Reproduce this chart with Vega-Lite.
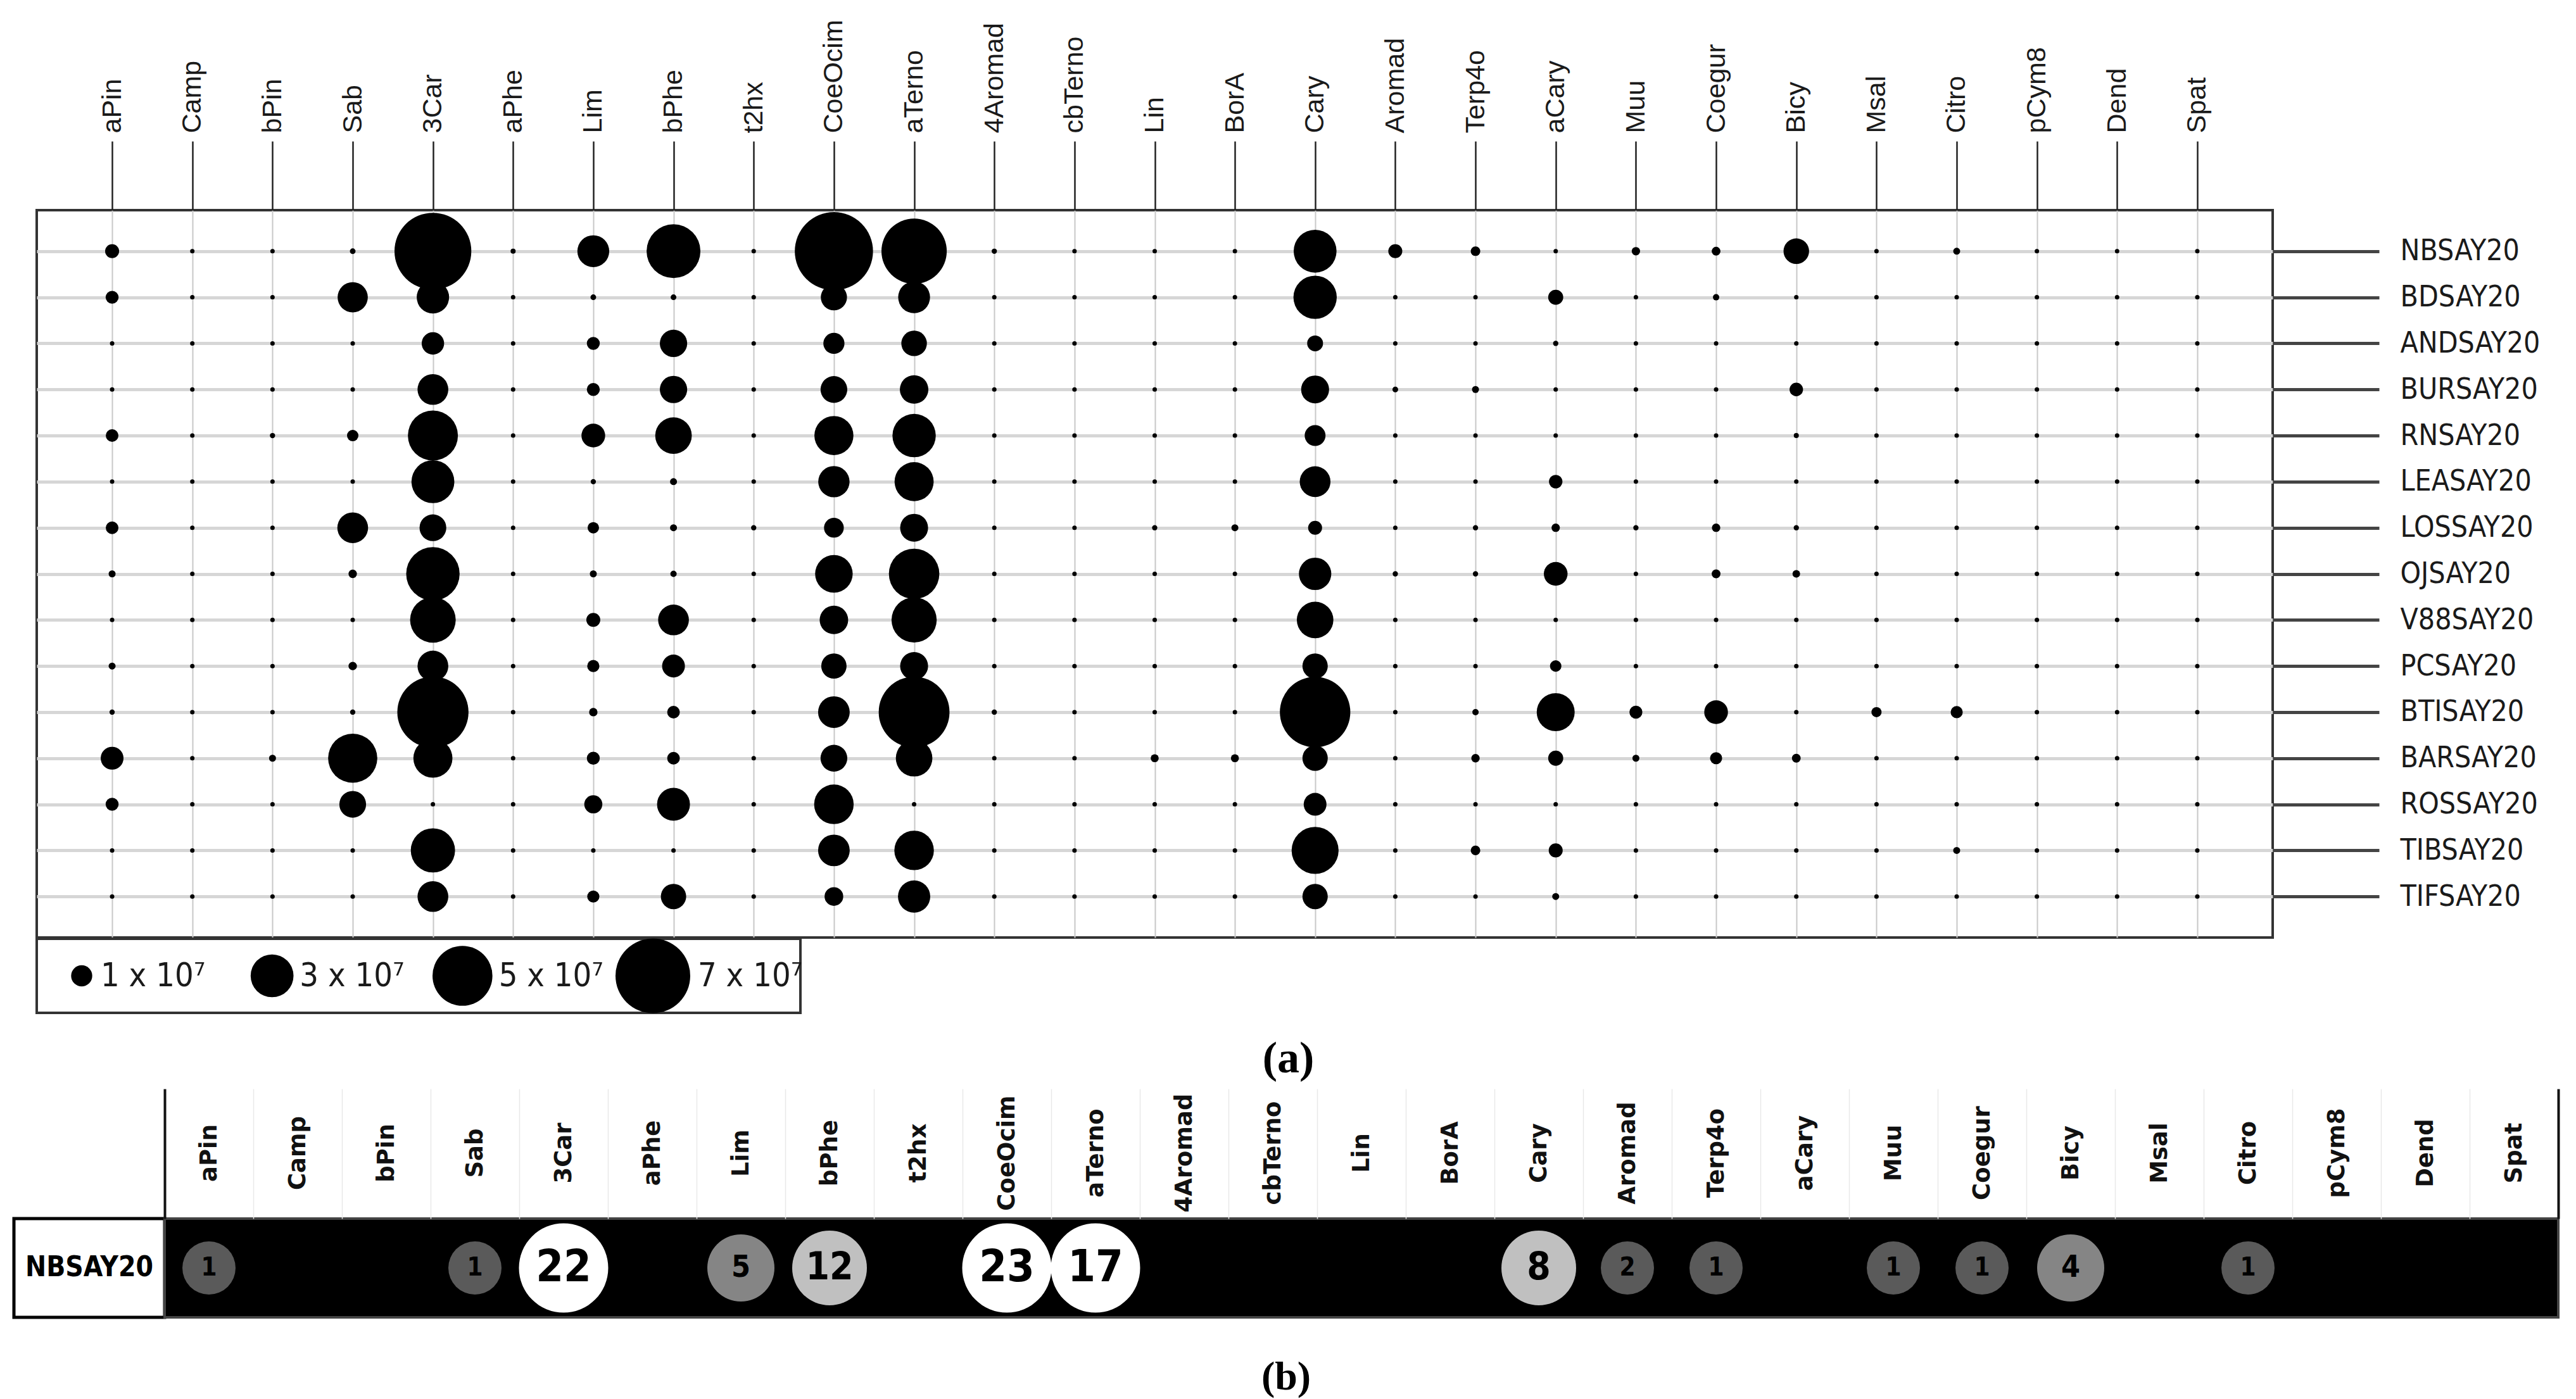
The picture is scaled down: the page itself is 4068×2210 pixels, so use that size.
{
  "$schema": "https://vega.github.io/schema/vega-lite/v6.json",
  "background": "white",
  "padding": {"left": 19, "top": 28, "right": 5, "bottom": 4},
  "config": {
    "view": {"stroke": "#333333", "strokeWidth": 4},
    "axis": {"titlePadding": 0, "labelLimit": 1000, "labelOverlap": false, "labelBound": false}
  },
  "datasets": {
    "grid": [
      {"compound":"aPin","sample":"NBSAY20","value":0.51},{"compound":"Camp","sample":"NBSAY20","value":0},{"compound":"bPin","sample":"NBSAY20","value":0},{"compound":"Sab","sample":"NBSAY20","value":0.07},{"compound":"3Car","sample":"NBSAY20","value":7.3},{"compound":"aPhe","sample":"NBSAY20","value":0.04},{"compound":"Lim","sample":"NBSAY20","value":1.9},{"compound":"bPhe","sample":"NBSAY20","value":4.25},{"compound":"t2hx","sample":"NBSAY20","value":0},{"compound":"CoeOcim","sample":"NBSAY20","value":7.5},{"compound":"aTerno","sample":"NBSAY20","value":5.7},{"compound":"4Aromad","sample":"NBSAY20","value":0.05},{"compound":"cbTerno","sample":"NBSAY20","value":0},{"compound":"Lin","sample":"NBSAY20","value":0},{"compound":"BorA","sample":"NBSAY20","value":0},{"compound":"Cary","sample":"NBSAY20","value":3.0},{"compound":"Aromad","sample":"NBSAY20","value":0.51},{"compound":"Terp4o","sample":"NBSAY20","value":0.26},{"compound":"aCary","sample":"NBSAY20","value":0},{"compound":"Muu","sample":"NBSAY20","value":0.2},{"compound":"Coegur","sample":"NBSAY20","value":0.22},{"compound":"Bicy","sample":"NBSAY20","value":1.35},{"compound":"Msal","sample":"NBSAY20","value":0},{"compound":"Citro","sample":"NBSAY20","value":0.13},{"compound":"pCym8","sample":"NBSAY20","value":0},{"compound":"Dend","sample":"NBSAY20","value":0},{"compound":"Spat","sample":"NBSAY20","value":0},
      {"compound":"aPin","sample":"BDSAY20","value":0.45},{"compound":"Camp","sample":"BDSAY20","value":0},{"compound":"bPin","sample":"BDSAY20","value":0},{"compound":"Sab","sample":"BDSAY20","value":1.75},{"compound":"3Car","sample":"BDSAY20","value":1.95},{"compound":"aPhe","sample":"BDSAY20","value":0},{"compound":"Lim","sample":"BDSAY20","value":0.07},{"compound":"bPhe","sample":"BDSAY20","value":0.07},{"compound":"t2hx","sample":"BDSAY20","value":0},{"compound":"CoeOcim","sample":"BDSAY20","value":1.4},{"compound":"aTerno","sample":"BDSAY20","value":1.9},{"compound":"4Aromad","sample":"BDSAY20","value":0},{"compound":"cbTerno","sample":"BDSAY20","value":0},{"compound":"Lin","sample":"BDSAY20","value":0},{"compound":"BorA","sample":"BDSAY20","value":0},{"compound":"Cary","sample":"BDSAY20","value":3.05},{"compound":"Aromad","sample":"BDSAY20","value":0},{"compound":"Terp4o","sample":"BDSAY20","value":0},{"compound":"aCary","sample":"BDSAY20","value":0.58},{"compound":"Muu","sample":"BDSAY20","value":0},{"compound":"Coegur","sample":"BDSAY20","value":0.1},{"compound":"Bicy","sample":"BDSAY20","value":0},{"compound":"Msal","sample":"BDSAY20","value":0},{"compound":"Citro","sample":"BDSAY20","value":0},{"compound":"pCym8","sample":"BDSAY20","value":0},{"compound":"Dend","sample":"BDSAY20","value":0},{"compound":"Spat","sample":"BDSAY20","value":0},
      {"compound":"aPin","sample":"ANDSAY20","value":0},{"compound":"Camp","sample":"ANDSAY20","value":0},{"compound":"bPin","sample":"ANDSAY20","value":0},{"compound":"Sab","sample":"ANDSAY20","value":0},{"compound":"3Car","sample":"ANDSAY20","value":1.1},{"compound":"aPhe","sample":"ANDSAY20","value":0},{"compound":"Lim","sample":"ANDSAY20","value":0.45},{"compound":"bPhe","sample":"ANDSAY20","value":1.5},{"compound":"t2hx","sample":"ANDSAY20","value":0},{"compound":"CoeOcim","sample":"ANDSAY20","value":1.0},{"compound":"aTerno","sample":"ANDSAY20","value":1.35},{"compound":"4Aromad","sample":"ANDSAY20","value":0},{"compound":"cbTerno","sample":"ANDSAY20","value":0},{"compound":"Lin","sample":"ANDSAY20","value":0},{"compound":"BorA","sample":"ANDSAY20","value":0},{"compound":"Cary","sample":"ANDSAY20","value":0.63},{"compound":"Aromad","sample":"ANDSAY20","value":0},{"compound":"Terp4o","sample":"ANDSAY20","value":0},{"compound":"aCary","sample":"ANDSAY20","value":0.05},{"compound":"Muu","sample":"ANDSAY20","value":0},{"compound":"Coegur","sample":"ANDSAY20","value":0},{"compound":"Bicy","sample":"ANDSAY20","value":0},{"compound":"Msal","sample":"ANDSAY20","value":0},{"compound":"Citro","sample":"ANDSAY20","value":0},{"compound":"pCym8","sample":"ANDSAY20","value":0},{"compound":"Dend","sample":"ANDSAY20","value":0},{"compound":"Spat","sample":"ANDSAY20","value":0},
      {"compound":"aPin","sample":"BURSAY20","value":0},{"compound":"Camp","sample":"BURSAY20","value":0},{"compound":"bPin","sample":"BURSAY20","value":0},{"compound":"Sab","sample":"BURSAY20","value":0},{"compound":"3Car","sample":"BURSAY20","value":1.8},{"compound":"aPhe","sample":"BURSAY20","value":0},{"compound":"Lim","sample":"BURSAY20","value":0.45},{"compound":"bPhe","sample":"BURSAY20","value":1.5},{"compound":"t2hx","sample":"BURSAY20","value":0},{"compound":"CoeOcim","sample":"BURSAY20","value":1.45},{"compound":"aTerno","sample":"BURSAY20","value":1.6},{"compound":"4Aromad","sample":"BURSAY20","value":0},{"compound":"cbTerno","sample":"BURSAY20","value":0},{"compound":"Lin","sample":"BURSAY20","value":0},{"compound":"BorA","sample":"BURSAY20","value":0},{"compound":"Cary","sample":"BURSAY20","value":1.55},{"compound":"Aromad","sample":"BURSAY20","value":0.07},{"compound":"Terp4o","sample":"BURSAY20","value":0.13},{"compound":"aCary","sample":"BURSAY20","value":0},{"compound":"Muu","sample":"BURSAY20","value":0},{"compound":"Coegur","sample":"BURSAY20","value":0},{"compound":"Bicy","sample":"BURSAY20","value":0.48},{"compound":"Msal","sample":"BURSAY20","value":0},{"compound":"Citro","sample":"BURSAY20","value":0},{"compound":"pCym8","sample":"BURSAY20","value":0},{"compound":"Dend","sample":"BURSAY20","value":0},{"compound":"Spat","sample":"BURSAY20","value":0},
      {"compound":"aPin","sample":"RNSAY20","value":0.43},{"compound":"Camp","sample":"RNSAY20","value":0},{"compound":"bPin","sample":"RNSAY20","value":0.05},{"compound":"Sab","sample":"RNSAY20","value":0.36},{"compound":"3Car","sample":"RNSAY20","value":3.8},{"compound":"aPhe","sample":"RNSAY20","value":0},{"compound":"Lim","sample":"RNSAY20","value":1.2},{"compound":"bPhe","sample":"RNSAY20","value":2.35},{"compound":"t2hx","sample":"RNSAY20","value":0},{"compound":"CoeOcim","sample":"RNSAY20","value":2.6},{"compound":"aTerno","sample":"RNSAY20","value":3.05},{"compound":"4Aromad","sample":"RNSAY20","value":0},{"compound":"cbTerno","sample":"RNSAY20","value":0},{"compound":"Lin","sample":"RNSAY20","value":0},{"compound":"BorA","sample":"RNSAY20","value":0},{"compound":"Cary","sample":"RNSAY20","value":0.98},{"compound":"Aromad","sample":"RNSAY20","value":0},{"compound":"Terp4o","sample":"RNSAY20","value":0},{"compound":"aCary","sample":"RNSAY20","value":0},{"compound":"Muu","sample":"RNSAY20","value":0},{"compound":"Coegur","sample":"RNSAY20","value":0},{"compound":"Bicy","sample":"RNSAY20","value":0.04},{"compound":"Msal","sample":"RNSAY20","value":0},{"compound":"Citro","sample":"RNSAY20","value":0},{"compound":"pCym8","sample":"RNSAY20","value":0},{"compound":"Dend","sample":"RNSAY20","value":0},{"compound":"Spat","sample":"RNSAY20","value":0},
      {"compound":"aPin","sample":"LEASAY20","value":0},{"compound":"Camp","sample":"LEASAY20","value":0},{"compound":"bPin","sample":"LEASAY20","value":0},{"compound":"Sab","sample":"LEASAY20","value":0},{"compound":"3Car","sample":"LEASAY20","value":3.0},{"compound":"aPhe","sample":"LEASAY20","value":0},{"compound":"Lim","sample":"LEASAY20","value":0.05},{"compound":"bPhe","sample":"LEASAY20","value":0.13},{"compound":"t2hx","sample":"LEASAY20","value":0},{"compound":"CoeOcim","sample":"LEASAY20","value":1.85},{"compound":"aTerno","sample":"LEASAY20","value":2.6},{"compound":"4Aromad","sample":"LEASAY20","value":0},{"compound":"cbTerno","sample":"LEASAY20","value":0},{"compound":"Lin","sample":"LEASAY20","value":0},{"compound":"BorA","sample":"LEASAY20","value":0},{"compound":"Cary","sample":"LEASAY20","value":1.8},{"compound":"Aromad","sample":"LEASAY20","value":0},{"compound":"Terp4o","sample":"LEASAY20","value":0},{"compound":"aCary","sample":"LEASAY20","value":0.48},{"compound":"Muu","sample":"LEASAY20","value":0},{"compound":"Coegur","sample":"LEASAY20","value":0},{"compound":"Bicy","sample":"LEASAY20","value":0},{"compound":"Msal","sample":"LEASAY20","value":0},{"compound":"Citro","sample":"LEASAY20","value":0},{"compound":"pCym8","sample":"LEASAY20","value":0},{"compound":"Dend","sample":"LEASAY20","value":0},{"compound":"Spat","sample":"LEASAY20","value":0},
      {"compound":"aPin","sample":"LOSSAY20","value":0.43},{"compound":"Camp","sample":"LOSSAY20","value":0},{"compound":"bPin","sample":"LOSSAY20","value":0},{"compound":"Sab","sample":"LOSSAY20","value":1.8},{"compound":"3Car","sample":"LOSSAY20","value":1.45},{"compound":"aPhe","sample":"LOSSAY20","value":0},{"compound":"Lim","sample":"LOSSAY20","value":0.36},{"compound":"bPhe","sample":"LOSSAY20","value":0.13},{"compound":"t2hx","sample":"LOSSAY20","value":0.05},{"compound":"CoeOcim","sample":"LOSSAY20","value":0.9},{"compound":"aTerno","sample":"LOSSAY20","value":1.55},{"compound":"4Aromad","sample":"LOSSAY20","value":0},{"compound":"cbTerno","sample":"LOSSAY20","value":0},{"compound":"Lin","sample":"LOSSAY20","value":0.05},{"compound":"BorA","sample":"LOSSAY20","value":0.13},{"compound":"Cary","sample":"LOSSAY20","value":0.51},{"compound":"Aromad","sample":"LOSSAY20","value":0},{"compound":"Terp4o","sample":"LOSSAY20","value":0.05},{"compound":"aCary","sample":"LOSSAY20","value":0.2},{"compound":"Muu","sample":"LOSSAY20","value":0.05},{"compound":"Coegur","sample":"LOSSAY20","value":0.2},{"compound":"Bicy","sample":"LOSSAY20","value":0.05},{"compound":"Msal","sample":"LOSSAY20","value":0},{"compound":"Citro","sample":"LOSSAY20","value":0},{"compound":"pCym8","sample":"LOSSAY20","value":0},{"compound":"Dend","sample":"LOSSAY20","value":0},{"compound":"Spat","sample":"LOSSAY20","value":0},
      {"compound":"aPin","sample":"OJSAY20","value":0.13},{"compound":"Camp","sample":"OJSAY20","value":0},{"compound":"bPin","sample":"OJSAY20","value":0},{"compound":"Sab","sample":"OJSAY20","value":0.2},{"compound":"3Car","sample":"OJSAY20","value":4.2},{"compound":"aPhe","sample":"OJSAY20","value":0},{"compound":"Lim","sample":"OJSAY20","value":0.13},{"compound":"bPhe","sample":"OJSAY20","value":0.1},{"compound":"t2hx","sample":"OJSAY20","value":0},{"compound":"CoeOcim","sample":"OJSAY20","value":2.45},{"compound":"aTerno","sample":"OJSAY20","value":3.85},{"compound":"4Aromad","sample":"OJSAY20","value":0},{"compound":"cbTerno","sample":"OJSAY20","value":0},{"compound":"Lin","sample":"OJSAY20","value":0},{"compound":"BorA","sample":"OJSAY20","value":0},{"compound":"Cary","sample":"OJSAY20","value":1.95},{"compound":"Aromad","sample":"OJSAY20","value":0.05},{"compound":"Terp4o","sample":"OJSAY20","value":0.05},{"compound":"aCary","sample":"OJSAY20","value":1.2},{"compound":"Muu","sample":"OJSAY20","value":0},{"compound":"Coegur","sample":"OJSAY20","value":0.22},{"compound":"Bicy","sample":"OJSAY20","value":0.16},{"compound":"Msal","sample":"OJSAY20","value":0},{"compound":"Citro","sample":"OJSAY20","value":0},{"compound":"pCym8","sample":"OJSAY20","value":0},{"compound":"Dend","sample":"OJSAY20","value":0},{"compound":"Spat","sample":"OJSAY20","value":0},
      {"compound":"aPin","sample":"V88SAY20","value":0},{"compound":"Camp","sample":"V88SAY20","value":0},{"compound":"bPin","sample":"V88SAY20","value":0},{"compound":"Sab","sample":"V88SAY20","value":0},{"compound":"3Car","sample":"V88SAY20","value":3.3},{"compound":"aPhe","sample":"V88SAY20","value":0},{"compound":"Lim","sample":"V88SAY20","value":0.51},{"compound":"bPhe","sample":"V88SAY20","value":1.8},{"compound":"t2hx","sample":"V88SAY20","value":0},{"compound":"CoeOcim","sample":"V88SAY20","value":1.6},{"compound":"aTerno","sample":"V88SAY20","value":3.25},{"compound":"4Aromad","sample":"V88SAY20","value":0},{"compound":"cbTerno","sample":"V88SAY20","value":0},{"compound":"Lin","sample":"V88SAY20","value":0},{"compound":"BorA","sample":"V88SAY20","value":0},{"compound":"Cary","sample":"V88SAY20","value":2.35},{"compound":"Aromad","sample":"V88SAY20","value":0},{"compound":"Terp4o","sample":"V88SAY20","value":0},{"compound":"aCary","sample":"V88SAY20","value":0},{"compound":"Muu","sample":"V88SAY20","value":0},{"compound":"Coegur","sample":"V88SAY20","value":0},{"compound":"Bicy","sample":"V88SAY20","value":0},{"compound":"Msal","sample":"V88SAY20","value":0},{"compound":"Citro","sample":"V88SAY20","value":0},{"compound":"pCym8","sample":"V88SAY20","value":0},{"compound":"Dend","sample":"V88SAY20","value":0},{"compound":"Spat","sample":"V88SAY20","value":0},
      {"compound":"aPin","sample":"PCSAY20","value":0.13},{"compound":"Camp","sample":"PCSAY20","value":0},{"compound":"bPin","sample":"PCSAY20","value":0},{"compound":"Sab","sample":"PCSAY20","value":0.2},{"compound":"3Car","sample":"PCSAY20","value":1.8},{"compound":"aPhe","sample":"PCSAY20","value":0},{"compound":"Lim","sample":"PCSAY20","value":0.4},{"compound":"bPhe","sample":"PCSAY20","value":1.13},{"compound":"t2hx","sample":"PCSAY20","value":0},{"compound":"CoeOcim","sample":"PCSAY20","value":1.33},{"compound":"aTerno","sample":"PCSAY20","value":1.55},{"compound":"4Aromad","sample":"PCSAY20","value":0},{"compound":"cbTerno","sample":"PCSAY20","value":0},{"compound":"Lin","sample":"PCSAY20","value":0},{"compound":"BorA","sample":"PCSAY20","value":0},{"compound":"Cary","sample":"PCSAY20","value":1.33},{"compound":"Aromad","sample":"PCSAY20","value":0},{"compound":"Terp4o","sample":"PCSAY20","value":0},{"compound":"aCary","sample":"PCSAY20","value":0.36},{"compound":"Muu","sample":"PCSAY20","value":0},{"compound":"Coegur","sample":"PCSAY20","value":0},{"compound":"Bicy","sample":"PCSAY20","value":0},{"compound":"Msal","sample":"PCSAY20","value":0},{"compound":"Citro","sample":"PCSAY20","value":0},{"compound":"pCym8","sample":"PCSAY20","value":0},{"compound":"Dend","sample":"PCSAY20","value":0},{"compound":"Spat","sample":"PCSAY20","value":0},
      {"compound":"aPin","sample":"BTISAY20","value":0.05},{"compound":"Camp","sample":"BTISAY20","value":0},{"compound":"bPin","sample":"BTISAY20","value":0},{"compound":"Sab","sample":"BTISAY20","value":0.05},{"compound":"3Car","sample":"BTISAY20","value":6.5},{"compound":"aPhe","sample":"BTISAY20","value":0},{"compound":"Lim","sample":"BTISAY20","value":0.2},{"compound":"bPhe","sample":"BTISAY20","value":0.43},{"compound":"t2hx","sample":"BTISAY20","value":0},{"compound":"CoeOcim","sample":"BTISAY20","value":1.88},{"compound":"aTerno","sample":"BTISAY20","value":6.45},{"compound":"4Aromad","sample":"BTISAY20","value":0.05},{"compound":"cbTerno","sample":"BTISAY20","value":0},{"compound":"Lin","sample":"BTISAY20","value":0},{"compound":"BorA","sample":"BTISAY20","value":0},{"compound":"Cary","sample":"BTISAY20","value":6.4},{"compound":"Aromad","sample":"BTISAY20","value":0},{"compound":"Terp4o","sample":"BTISAY20","value":0.1},{"compound":"aCary","sample":"BTISAY20","value":2.49},{"compound":"Muu","sample":"BTISAY20","value":0.45},{"compound":"Coegur","sample":"BTISAY20","value":1.2},{"compound":"Bicy","sample":"BTISAY20","value":0},{"compound":"Msal","sample":"BTISAY20","value":0.29},{"compound":"Citro","sample":"BTISAY20","value":0.4},{"compound":"pCym8","sample":"BTISAY20","value":0},{"compound":"Dend","sample":"BTISAY20","value":0},{"compound":"Spat","sample":"BTISAY20","value":0},
      {"compound":"aPin","sample":"BARSAY20","value":1.13},{"compound":"Camp","sample":"BARSAY20","value":0},{"compound":"bPin","sample":"BARSAY20","value":0.13},{"compound":"Sab","sample":"BARSAY20","value":3.7},{"compound":"3Car","sample":"BARSAY20","value":2.6},{"compound":"aPhe","sample":"BARSAY20","value":0},{"compound":"Lim","sample":"BARSAY20","value":0.45},{"compound":"bPhe","sample":"BARSAY20","value":0.43},{"compound":"t2hx","sample":"BARSAY20","value":0},{"compound":"CoeOcim","sample":"BARSAY20","value":1.45},{"compound":"aTerno","sample":"BARSAY20","value":2.35},{"compound":"4Aromad","sample":"BARSAY20","value":0},{"compound":"cbTerno","sample":"BARSAY20","value":0},{"compound":"Lin","sample":"BARSAY20","value":0.18},{"compound":"BorA","sample":"BARSAY20","value":0.18},{"compound":"Cary","sample":"BARSAY20","value":1.33},{"compound":"Aromad","sample":"BARSAY20","value":0},{"compound":"Terp4o","sample":"BARSAY20","value":0.2},{"compound":"aCary","sample":"BARSAY20","value":0.58},{"compound":"Muu","sample":"BARSAY20","value":0.13},{"compound":"Coegur","sample":"BARSAY20","value":0.4},{"compound":"Bicy","sample":"BARSAY20","value":0.22},{"compound":"Msal","sample":"BARSAY20","value":0},{"compound":"Citro","sample":"BARSAY20","value":0},{"compound":"pCym8","sample":"BARSAY20","value":0},{"compound":"Dend","sample":"BARSAY20","value":0},{"compound":"Spat","sample":"BARSAY20","value":0},
      {"compound":"aPin","sample":"ROSSAY20","value":0.45},{"compound":"Camp","sample":"ROSSAY20","value":0},{"compound":"bPin","sample":"ROSSAY20","value":0},{"compound":"Sab","sample":"ROSSAY20","value":1.45},{"compound":"3Car","sample":"ROSSAY20","value":0},{"compound":"aPhe","sample":"ROSSAY20","value":0},{"compound":"Lim","sample":"ROSSAY20","value":0.78},{"compound":"bPhe","sample":"ROSSAY20","value":2.0},{"compound":"t2hx","sample":"ROSSAY20","value":0},{"compound":"CoeOcim","sample":"ROSSAY20","value":2.65},{"compound":"aTerno","sample":"ROSSAY20","value":0},{"compound":"4Aromad","sample":"ROSSAY20","value":0},{"compound":"cbTerno","sample":"ROSSAY20","value":0},{"compound":"Lin","sample":"ROSSAY20","value":0},{"compound":"BorA","sample":"ROSSAY20","value":0},{"compound":"Cary","sample":"ROSSAY20","value":1.13},{"compound":"Aromad","sample":"ROSSAY20","value":0},{"compound":"Terp4o","sample":"ROSSAY20","value":0},{"compound":"aCary","sample":"ROSSAY20","value":0},{"compound":"Muu","sample":"ROSSAY20","value":0},{"compound":"Coegur","sample":"ROSSAY20","value":0},{"compound":"Bicy","sample":"ROSSAY20","value":0},{"compound":"Msal","sample":"ROSSAY20","value":0},{"compound":"Citro","sample":"ROSSAY20","value":0},{"compound":"pCym8","sample":"ROSSAY20","value":0},{"compound":"Dend","sample":"ROSSAY20","value":0},{"compound":"Spat","sample":"ROSSAY20","value":0},
      {"compound":"aPin","sample":"TIBSAY20","value":0},{"compound":"Camp","sample":"TIBSAY20","value":0},{"compound":"bPin","sample":"TIBSAY20","value":0},{"compound":"Sab","sample":"TIBSAY20","value":0},{"compound":"3Car","sample":"TIBSAY20","value":3.15},{"compound":"aPhe","sample":"TIBSAY20","value":0},{"compound":"Lim","sample":"TIBSAY20","value":0},{"compound":"bPhe","sample":"TIBSAY20","value":0},{"compound":"t2hx","sample":"TIBSAY20","value":0},{"compound":"CoeOcim","sample":"TIBSAY20","value":1.88},{"compound":"aTerno","sample":"TIBSAY20","value":2.65},{"compound":"4Aromad","sample":"TIBSAY20","value":0},{"compound":"cbTerno","sample":"TIBSAY20","value":0},{"compound":"Lin","sample":"TIBSAY20","value":0},{"compound":"BorA","sample":"TIBSAY20","value":0},{"compound":"Cary","sample":"TIBSAY20","value":3.45},{"compound":"Aromad","sample":"TIBSAY20","value":0},{"compound":"Terp4o","sample":"TIBSAY20","value":0.26},{"compound":"aCary","sample":"TIBSAY20","value":0.51},{"compound":"Muu","sample":"TIBSAY20","value":0},{"compound":"Coegur","sample":"TIBSAY20","value":0},{"compound":"Bicy","sample":"TIBSAY20","value":0},{"compound":"Msal","sample":"TIBSAY20","value":0},{"compound":"Citro","sample":"TIBSAY20","value":0.13},{"compound":"pCym8","sample":"TIBSAY20","value":0},{"compound":"Dend","sample":"TIBSAY20","value":0},{"compound":"Spat","sample":"TIBSAY20","value":0},
      {"compound":"aPin","sample":"TIFSAY20","value":0},{"compound":"Camp","sample":"TIFSAY20","value":0},{"compound":"bPin","sample":"TIFSAY20","value":0},{"compound":"Sab","sample":"TIFSAY20","value":0},{"compound":"3Car","sample":"TIFSAY20","value":1.8},{"compound":"aPhe","sample":"TIFSAY20","value":0},{"compound":"Lim","sample":"TIFSAY20","value":0.4},{"compound":"bPhe","sample":"TIFSAY20","value":1.33},{"compound":"t2hx","sample":"TIFSAY20","value":0},{"compound":"CoeOcim","sample":"TIFSAY20","value":0.82},{"compound":"aTerno","sample":"TIFSAY20","value":1.94},{"compound":"4Aromad","sample":"TIFSAY20","value":0},{"compound":"cbTerno","sample":"TIFSAY20","value":0},{"compound":"Lin","sample":"TIFSAY20","value":0},{"compound":"BorA","sample":"TIFSAY20","value":0},{"compound":"Cary","sample":"TIFSAY20","value":1.33},{"compound":"Aromad","sample":"TIFSAY20","value":0},{"compound":"Terp4o","sample":"TIFSAY20","value":0},{"compound":"aCary","sample":"TIFSAY20","value":0.13},{"compound":"Muu","sample":"TIFSAY20","value":0},{"compound":"Coegur","sample":"TIFSAY20","value":0},{"compound":"Bicy","sample":"TIFSAY20","value":0},{"compound":"Msal","sample":"TIFSAY20","value":0},{"compound":"Citro","sample":"TIFSAY20","value":0},{"compound":"pCym8","sample":"TIFSAY20","value":0},{"compound":"Dend","sample":"TIFSAY20","value":0},{"compound":"Spat","sample":"TIFSAY20","value":0}
    ],
    "legend": [
      {"value": 1, "label": "1 x 10⁷"},
      {"value": 3, "label": "3 x 10⁷"},
      {"value": 5, "label": "5 x 10⁷"},
      {"value": 7, "label": "7 x 10⁷"}
    ],
    "spacer": [{"blank": 0}],
    "caption_b": [{"caption": "(b)"}],
    "panelb_label": [{"sample": "NBSAY20"}],
    "panelb": [
      {"compound": "aPin", "count": 1},
      {"compound": "Sab", "count": 1},
      {"compound": "3Car", "count": 22},
      {"compound": "Lim", "count": 5},
      {"compound": "bPhe", "count": 12},
      {"compound": "CoeOcim", "count": 23},
      {"compound": "aTerno", "count": 17},
      {"compound": "Cary", "count": 8},
      {"compound": "Aromad", "count": 2},
      {"compound": "Terp4o", "count": 1},
      {"compound": "Muu", "count": 1},
      {"compound": "Coegur", "count": 1},
      {"compound": "Bicy", "count": 4},
      {"compound": "Citro", "count": 1}
    ]
  },
  "spacing": 8,
  "vconcat": [
    {
      "spacing": 0,
      "hconcat": [
        {
          "width": 34,
          "height": 10,
          "data": {"name": "spacer"},
          "view": {"stroke": null, "fill": null},
          "mark": {"type": "point", "opacity": 0, "size": 1},
          "encoding": {}
        },
        {
          "spacing": -3,
          "title": {"text": "(a)", "orient": "bottom", "anchor": "middle", "baseline": "top", "offset": 36, "font": "Liberation Serif", "fontSize": 70, "fontWeight": "bold", "color": "black"},
          "vconcat": [
            {
              "width": 3531,
              "height": 1149,
              "data": {"name": "grid"},
              "mark": {"type": "point", "filled": true, "shape": "circle", "color": "black", "opacity": 1, "strokeWidth": 0},
              "encoding": {
                "x": {
                  "field": "compound", "type": "nominal", "sort": null,
                  "scale": {"type": "point", "padding": 0.94, "domain": ["aPin","Camp","bPin","Sab","3Car","aPhe","Lim","bPhe","t2hx","CoeOcim","aTerno","4Aromad","cbTerno","Lin","BorA","Cary","Aromad","Terp4o","aCary","Muu","Coegur","Bicy","Msal","Citro","pCym8","Dend","Spat"]},
                  "axis": {"orient": "top", "title": null, "labelAngle": -90, "labelFont": "Liberation Sans", "labelFontSize": 43, "labelColor": "#1a1a1a", "tickSize": 109, "tickColor": "#222222", "tickWidth": 2.5, "labelPadding": 13, "domain": false, "grid": true, "gridColor": "#c8c8c8", "gridWidth": 2}
                },
                "y": {
                  "field": "sample", "type": "nominal", "sort": null,
                  "scale": {"type": "point", "padding": 0.89, "domain": ["NBSAY20","BDSAY20","ANDSAY20","BURSAY20","RNSAY20","LEASAY20","LOSSAY20","OJSAY20","V88SAY20","PCSAY20","BTISAY20","BARSAY20","ROSSAY20","TIBSAY20","TIFSAY20"]},
                  "axis": {"orient": "right", "title": null, "labelFont": "Liberation Sans Narrow, DejaVu Sans Condensed, Arial Narrow, sans-serif", "labelFontSize": 46, "labelColor": "#1a1a1a", "tickSize": 168, "tickColor": "#444444", "tickWidth": 5, "labelPadding": 33, "domain": false, "grid": true, "gridColor": "#d6d6d6", "gridWidth": 5}
                },
                "size": {"field": "value", "type": "quantitative", "scale": {"type": "pow", "exponent": 1.32, "domain": [0, 7], "range": [49, 13924]}, "legend": null}
              }
            },
            {
              "width": 1206,
              "height": 117,
              "data": {"name": "legend"},
              "layer": [
                {
                  "mark": {"type": "point", "filled": true, "shape": "circle", "color": "black", "opacity": 1, "strokeWidth": 0},
                  "encoding": {
                    "x": {"field": "value", "type": "ordinal", "scale": {"type": "point", "padding": 0, "range": [71, 973]}, "axis": null},
                    "size": {"field": "value", "type": "quantitative", "scale": {"type": "pow", "exponent": 1.32, "domain": [0, 7], "range": [49, 13924]}, "legend": null}
                  }
                },
                {
                  "mark": {"type": "text", "align": "left", "baseline": "middle", "font": "Liberation Sans Narrow, DejaVu Sans Condensed, Arial Narrow, sans-serif", "fontSize": 52, "color": "#1a1a1a"},
                  "encoding": {
                    "x": {"field": "value", "type": "ordinal", "scale": {"type": "point", "padding": 0, "range": [101, 1044]}, "axis": null},
                    "text": {"field": "label"}
                  }
                }
              ],
              "resolve": {"scale": {"x": "independent"}}
            }
          ]
        }
      ]
    },
    {
      "spacing": 60,
      "vconcat": [
        {
          "bounds": "flush",
          "spacing": 0,
          "hconcat": [
            {
              "width": 238,
              "height": 156,
              "data": {"name": "panelb_label"},
              "view": {"stroke": "black", "strokeWidth": 5, "fill": "white"},
              "mark": {"type": "text", "font": "Liberation Sans Narrow, DejaVu Sans Condensed, Arial Narrow, sans-serif", "fontSize": 44, "fontWeight": "bold", "color": "black", "align": "center", "baseline": "middle"},
              "encoding": {"text": {"field": "sample"}}
            },
            {
              "width": 3780,
              "height": 156,
              "data": {"name": "panelb"},
              "view": {"fill": "black", "stroke": "#444444", "strokeWidth": 4},
              "encoding": {
                "x": {
                  "field": "compound", "type": "nominal", "sort": null,
                  "scale": {"type": "band", "paddingInner": 0, "paddingOuter": 0, "domain": ["aPin","Camp","bPin","Sab","3Car","aPhe","Lim","bPhe","t2hx","CoeOcim","aTerno","4Aromad","cbTerno","Lin","BorA","Cary","Aromad","Terp4o","aCary","Muu","Coegur","Bicy","Msal","Citro","pCym8","Dend","Spat"]},
                  "axis": {"orient": "top", "title": null, "labelAngle": -90, "labelAlign": "center", "labelBaseline": "middle", "labelFont": "DejaVu Sans", "labelFontWeight": "bold", "labelFontSize": 37, "labelColor": "#111111", "tickBand": "extent", "tickSize": 205, "tickColor": {"condition": {"test": "datum.index < 0 || datum.index === 1", "value": "#111111"}, "value": "#e8e8e8"}, "tickWidth": {"condition": {"test": "datum.index < 0 || datum.index === 1", "value": 4}, "value": 1.5}, "labelPadding": -101, "domain": false, "grid": false}
                }
              },
              "layer": [
                {
                  "mark": {"type": "point", "filled": true, "shape": "circle", "opacity": 1, "strokeWidth": 0},
                  "encoding": {
                    "size": {"field": "count", "type": "quantitative", "scale": {"type": "threshold", "domain": [3, 7, 15], "range": [7056, 11236, 13924, 19881]}, "legend": null},
                    "color": {"field": "count", "type": "quantitative", "scale": {"type": "threshold", "domain": [3, 7, 15], "range": ["#5a5a5a", "#858585", "#c0c0c0", "#ffffff"]}, "legend": null}
                  }
                },
                {
                  "mark": {"type": "text", "font": "Liberation Sans Narrow, DejaVu Sans Condensed, Arial Narrow, sans-serif", "fontWeight": "bold", "color": "black", "align": "center", "baseline": "middle"},
                  "encoding": {
                    "text": {"field": "count", "type": "quantitative"},
                    "size": {"field": "count", "type": "quantitative", "scale": {"type": "threshold", "domain": [3, 7, 15], "range": [40, 48, 60, 70]}, "legend": null}
                  }
                }
              ],
              "resolve": {"scale": {"size": "independent"}}
            }
          ]
        },
        {
          "width": 4018,
          "height": 60,
          "data": {"name": "caption_b"},
          "view": {"stroke": null, "fill": null},
          "mark": {"type": "text", "font": "Liberation Serif", "fontSize": 64, "fontWeight": "bold", "color": "black", "align": "center", "baseline": "middle"},
          "encoding": {"text": {"field": "caption"}}
        }
      ]
    }
  ]
}
